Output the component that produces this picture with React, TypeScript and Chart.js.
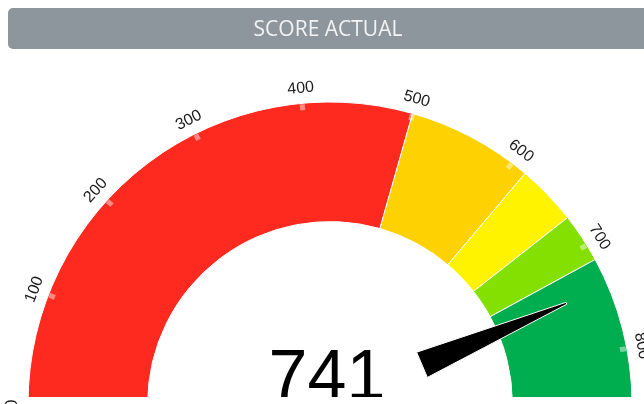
import React, { useEffect, useRef } from "react";
import { Chart, registerables } from "chart.js";

Chart.register(...registerables);

const titleText = "SCORE ACTUAL";
const bandLabels = ["0-500", "500-615", "615-670", "670-715", "715-850"];
const bandSizes = [500, 115, 55, 45, 135];
const bandColors = ["#FF2A1F", "#FDD102", "#FFF300", "#84E000", "#00AE4F"];
const scaleMax = 850;
const tickValues = [0, 100, 200, 300, 400, 500, 600, 700, 800];
const tickLabels = ["0", "100", "200", "300", "400", "500", "600", "700", "800"];
const scoreValue = 741;

const CLIP_BOTTOM = 397;

const gaugeOverlay = {
  id: "gaugeOverlay",
  beforeDatasetsDraw(chart: any) {
    const ctx = chart.ctx;
    ctx.save();
    ctx.beginPath();
    ctx.rect(0, 0, chart.width, CLIP_BOTTOM);
    ctx.clip();
  },
  afterDatasetsDraw(chart: any) {
    const ctx = chart.ctx;
    const meta = chart.getDatasetMeta(0);
    const arc0 = meta.data[0];
    if (!arc0) {
      ctx.restore();
      return;
    }
    const cx = arc0.x;
    const cy = arc0.y;
    const R = arc0.outerRadius;
    const ang = (v: number) => -Math.PI + (v / scaleMax) * Math.PI;

    // ticks (inside clip)
    ctx.strokeStyle = "rgba(255,255,255,0.45)";
    ctx.lineWidth = 5;
    tickValues.forEach((v) => {
      const a = ang(v);
      ctx.beginPath();
      ctx.moveTo(cx + (R - 7) * Math.cos(a), cy + (R - 7) * Math.sin(a));
      ctx.lineTo(cx + (R - 1) * Math.cos(a), cy + (R - 1) * Math.sin(a));
      ctx.stroke();
    });
    // needle
    const a = ang(scoreValue);
    const ux = Math.cos(a), uy = Math.sin(a);
    const px = -uy, py = ux;
    const r0 = 100, r1 = 257, hw = 13.7;
    ctx.beginPath();
    ctx.moveTo(cx + r0 * ux + hw * px, cy + r0 * uy + hw * py);
    ctx.lineTo(cx + r1 * ux + 1 * px, cy + r1 * uy + 1 * py);
    ctx.lineTo(cx + r1 * ux - 1 * px, cy + r1 * uy - 1 * py);
    ctx.lineTo(cx + r0 * ux - hw * px, cy + r0 * uy - hw * py);
    ctx.closePath();
    ctx.fillStyle = "#000";
    ctx.strokeStyle = "#fff";
    ctx.lineWidth = 1;
    ctx.fill();
    ctx.stroke();
    // value text
    ctx.fillStyle = "#000";
    ctx.font = '70px "Liberation Sans", Arial, sans-serif';
    ctx.textAlign = "center";
    ctx.textBaseline = "alphabetic";
    ctx.fillText(String(scoreValue), cx - 3, cy - 5);
    ctx.restore();

    // labels (not clipped)
    ctx.save();
    ctx.fillStyle = "#1a1a1a";
    ctx.font = '16px "Liberation Sans", Arial, sans-serif';
    ctx.textAlign = "center";
    ctx.textBaseline = "middle";
    tickValues.forEach((v, i) => {
      const la = ang(v);
      const r = R + 15;
      ctx.save();
      ctx.translate(cx + r * Math.cos(la), cy + r * Math.sin(la));
      ctx.rotate(la + Math.PI / 2);
      ctx.fillText(tickLabels[i], 0, 0);
      ctx.restore();
    });
    ctx.restore();
  },
};

export default function App() {
  const canvasRef = useRef<HTMLCanvasElement | null>(null);
  useEffect(() => {
    if (!canvasRef.current) return;
    const chart = new Chart(canvasRef.current, {
      type: "doughnut",
      data: {
        labels: bandLabels,
        datasets: [
          {
            data: bandSizes,
            backgroundColor: bandColors,
            borderColor: "#ffffff",
            borderWidth: 1,
          },
        ],
      },
      options: {
        responsive: false,
        animation: false,
        devicePixelRatio: 1,
        rotation: -90,
        circumference: 180,
        radius: 302,
        cutout: "60.4%",
        layout: { padding: 0 },
        plugins: {
          legend: { display: false },
          tooltip: { enabled: false },
          title: { display: false },
        },
      } as any,
      plugins: [gaugeOverlay],
    });
    return () => chart.destroy();
  }, []);

  return (
    <div
      style={{
        position: "absolute",
        left: 0,
        top: 0,
        width: 644,
        height: 404,
        overflow: "hidden",
        background: "#fff",
      }}
    >
      <canvas
        ref={canvasRef}
        width={660}
        height={506}
        style={{ position: "absolute", left: 0, top: 0, width: 660, height: 506 }}
      />
      <div
        style={{
          position: "absolute",
          left: 8,
          top: 8,
          width: 720,
          height: 41,
          borderRadius: 5,
          background: "#8E969D",
        }}
      />
      <div
        style={{
          position: "absolute",
          left: 0,
          top: 8,
          width: 656,
          height: 41,
          lineHeight: "41px",
          textAlign: "center",
          color: "#F1F3F5",
          fontFamily: '"Open Sans", sans-serif',
          fontSize: 21,
        }}
      >
        {titleText}
      </div>
    </div>
  );
}
